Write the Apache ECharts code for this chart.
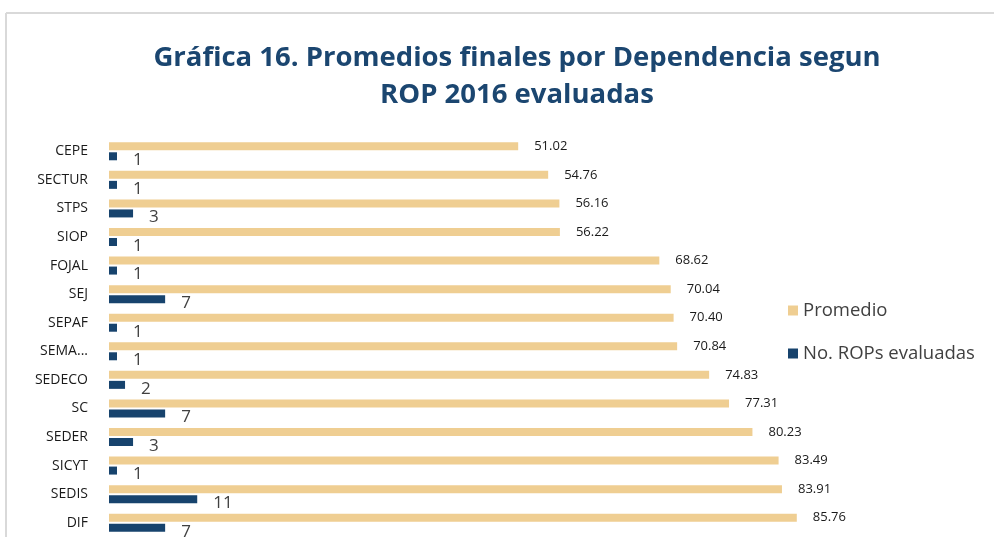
<!DOCTYPE html>
<html>
<head>
<meta charset="utf-8">
<script src="https://cdn.jsdelivr.net/npm/echarts@6/dist/echarts.min.js"></script>
<style>html,body{margin:0;padding:0;background:#fff}#c{width:994px;height:537px}</style>
</head>
<body>
<div id="c"></div>
<script>
const categories = ['CEPE','SECTUR','STPS','SIOP','FOJAL','SEJ','SEPAF','SEMA...','SEDECO','SC','SEDER','SICYT','SEDIS','DIF'];
const promedio = [51.02,54.76,56.16,56.22,68.62,70.04,70.40,70.84,74.83,77.31,80.23,83.49,83.91,85.76];
const rops = [1,1,3,1,1,7,1,1,2,7,3,1,11,7];
const seriesNames = ['Promedio','No. ROPs evaluadas'];

const chart = echarts.init(document.getElementById('c'));
chart.setOption({
  animation: false,
  backgroundColor: '#fff',
  title: {
    text: 'Gráfica 16. Promedios finales por Dependencia segun\nROP 2016 evaluadas',
    left: 512, top: 35, textAlign: 'center',
    textStyle: {fontFamily: 'Open Sans', fontWeight: 'bold', fontSize: 27.5, lineHeight: 37, color: '#1B4670'}
  },
  graphic: [
    {type: 'line', shape: {x1: 6, y1: 13, x2: 994, y2: 13}, style: {stroke: '#D9D9D9', lineWidth: 2}},
    {type: 'line', shape: {x1: 6, y1: 13, x2: 6, y2: 537}, style: {stroke: '#D9D9D9', lineWidth: 2}}
  ],
  legend: {
    orient: 'vertical', left: 783, top: 296, itemWidth: 10, itemHeight: 10, itemGap: 24,
    icon: 'rect',
    textStyle: {fontFamily: 'Open Sans', fontSize: 18.5, color: '#404040'},
    data: seriesNames
  },
  grid: {left: 109, top: 137, width: 802, height: 400, containLabel: false},
  xAxis: {type: 'value', min: 0, max: 100, show: false, splitLine: {show: false}},
  yAxis: {
    type: 'category', inverse: true, data: categories,
    axisLine: {show: false}, axisTick: {show: false},
    axisLabel: {margin: 21, fontFamily: 'Open Sans', fontSize: 14, color: '#1a1a1a'}
  },
  series: [
    {
      name: seriesNames[0], type: 'bar', data: promedio, barWidth: 8, barGap: '25%',
      itemStyle: {color: '#EFCE92'},
      label: {show: true, position: 'right', distance: 16, fontFamily: 'Open Sans', fontSize: 13, color: '#1a1a1a',
        formatter: p => p.value.toFixed(2)}
    },
    {
      name: seriesNames[1], type: 'bar', data: rops, barWidth: 8,
      itemStyle: {color: '#17436D'},
      label: {show: true, position: 'right', distance: 16, offset: [0, 4], fontFamily: 'Open Sans', fontSize: 17, color: '#404040'}
    }
  ]
});
</script>
</body>
</html>
